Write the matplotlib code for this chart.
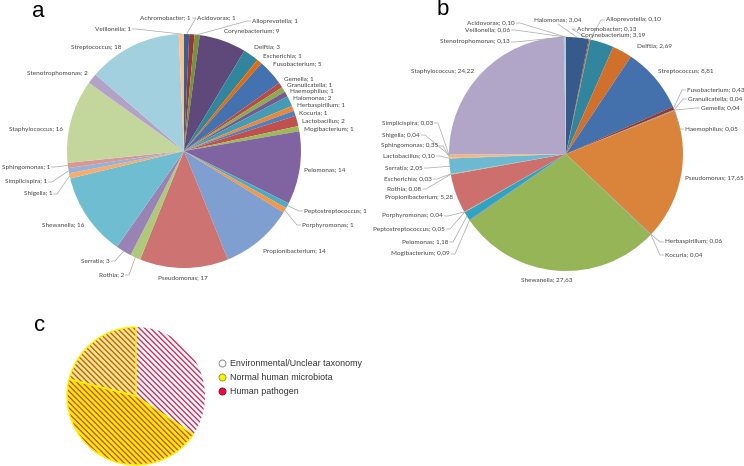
import matplotlib
matplotlib.use("Agg")
import matplotlib.pyplot as plt
import numpy as np

W, H = 744, 466
LABFONT = ["Lato", "DejaVu Sans"]
FS = 4.6
TXT = "#404040"
LEAD = "#a6a6a6"

# ---------------------------------------------------------------- data
# a : number of isolates per genus (clockwise from 12 o'clock)
genera_a = ["Achromobacter", "Acidovorax", "Alloprevotella", "Corynebacterium",
            "Delftia", "Escherichia", "Fusobacterium", "Gemella",
            "Granulicatella", "Haemophilus", "Halomonas", "Herbaspirillum",
            "Kocuria", "Lactobacillus", "Mogibacterium", "Pelomonas",
            "Peptostreptococcus", "Porphyromonas", "Propionibacterium",
            "Pseudomonas", "Rothia", "Serratia", "Shewanella", "Shigella",
            "Simplicispira", "Sphingomonas", "Staphylococcus",
            "Stenotrophomonas", "Streptococcus", "Veillonella"]
counts_a = [1, 1, 1, 9, 3, 1, 5, 1, 1, 1, 2, 1, 1, 2, 1, 14, 1, 1, 14, 17,
            2, 3, 16, 1, 1, 1, 16, 2, 18, 1]
colors_a = ["#376092", "#953735", "#76923c", "#5f497a", "#31859c", "#e36c09",
            "#4472b0", "#b84a47", "#8cab50", "#735a92", "#449bb2", "#e8883f",
            "#4f81bd", "#c0504d", "#9bbb59", "#8064a2", "#4bacc6", "#f79646",
            "#7e9fd0", "#cd7371", "#afc97a", "#9983b5", "#6fbdd1", "#f9ab6b",
            "#95b3d7", "#d99694", "#c3d69b", "#b3a2c7", "#a3d0df", "#fac08f"]

# b : relative abundance (%) per genus (clockwise from 12 o'clock)
genera_b = ["Halomonas", "Achromobacter", "Alloprevotella", "Corynebacterium",
            "Delftia", "Streptococcus", "Fusobacterium", "Granulicatella",
            "Gemella", "Haemophilus", "Pseudomonas", "Herbaspirillum",
            "Kocuria", "Shewanella", "Mogibacterium", "Pelomonas",
            "Peptostreptococcus", "Porphyromonas", "Propionibacterium",
            "Rothia", "Escherichia", "Serratia", "Lactobacillus",
            "Sphingomonas", "Shigella", "Simplicispira", "Staphylococcus",
            "Stenotrophomonas", "Veillonella", "Acidovorax"]
pct_b = [3.04, 0.13, 0.10, 3.19, 2.69, 8.81, 0.43, 0.04, 0.04, 0.05, 17.65,
         0.06, 0.04, 27.63, 0.09, 1.18, 0.05, 0.04, 5.28, 0.08, 0.03, 2.05,
         0.10, 0.35, 0.04, 0.03, 24.22, 0.13, 0.06, 0.10]
colors_b = ["#375a8c", "#953735", "#76923c", "#31859c", "#d0702a", "#4470ab",
            "#953735", "#8cab50", "#735a92", "#449bb2", "#d9843a", "#4f81bd",
            "#c0504d", "#96b556", "#8064a2", "#2fa3c2", "#f79646", "#7e9fd0",
            "#cd6f6d", "#afc97a", "#9983b5", "#6cb9d2", "#f9ab6b", "#f5b47c",
            "#d99694", "#c3d69b", "#b1a6c8", "#92cddc", "#fac08f", "#8fb8dc"]

# c : share by category (clockwise from 12 o'clock)
share_c = [34.4, 44.5, 21.1]
face_c = ["#ffffff", "#fff200", "#fbef7a"]
hatchcol_c = ["#d8285a", "#d8452a", "#c8553a"]
legend_c = ["Environmental/Unclear taxonomy", "Normal human microbiota",
            "Human pathogen"]
legend_face = ["#ffffff", "#fff200", "#e0103a"]
legend_edge = ["#8c8c8c", "#9a9a20", "#b00030"]

# ---------------------------------------------------------------- layout
# label anchor (px), alignment, leader line
LAY_A = {
    "Achromobacter": (191, 18, "right", True),
    "Acidovorax": (197, 18, "left", False),
    "Alloprevotella": (252, 21, "left", True),
    "Veillonella": (131, 29, "right", True),
    "Corynebacterium": (224, 32, "left", False),
    "Streptococcus": (121, 47, "right", False),
    "Delftia": (254, 47, "left", False),
    "Escherichia": (263, 56, "left", False),
    "Fusobacterium": (273, 64, "left", False),
    "Stenotrophomonas": (88, 73, "right", False),
    "Gemella": (284, 79, "left", False),
    "Granulicatella": (287, 85, "left", False),
    "Haemophilus": (290, 91, "left", False),
    "Halomonas": (293, 98, "left", False),
    "Herbaspirillum": (297, 106, "left", False),
    "Kocuria": (299, 113, "left", False),
    "Lactobacillus": (302, 121, "left", False),
    "Mogibacterium": (304, 130, "left", False),
    "Staphylococcus": (63, 129, "right", False),
    "Pelomonas": (304, 170, "left", False),
    "Peptostreptococcus": (304, 211, "left", True),
    "Porphyromonas": (302, 225, "left", True),
    "Propionibacterium": (263, 251, "left", False),
    "Pseudomonas": (183, 278, "center", False),
    "Rothia": (124, 275, "right", True),
    "Serratia": (110, 261, "right", True),
    "Shewanella": (84, 225, "right", False),
    "Shigella": (52, 194, "right", True),
    "Simplicispira": (47, 182, "right", True),
    "Sphingomonas": (50, 167, "right", True),
}
LAY_B = {
    "Acidovorax": (515, 23, "right", True),
    "Veillonella": (510, 30, "right", True),
    "Stenotrophomonas": (510, 42, "right", True),
    "Staphylococcus": (474, 72, "right", False),
    "Simplicispira": (433, 123, "right", True),
    "Shigella": (420, 135, "right", True),
    "Sphingomonas": (438, 146, "right", True),
    "Lactobacillus": (435, 156, "right", True),
    "Serratia": (423, 168, "right", True),
    "Escherichia": (432, 179, "right", True),
    "Rothia": (421, 189, "right", True),
    "Propionibacterium": (453, 198, "right", False),
    "Porphyromonas": (443, 216, "right", True),
    "Peptostreptococcus": (445, 229, "right", True),
    "Pelomonas": (448, 242, "right", True),
    "Mogibacterium": (450, 254, "right", True),
    "Shewanella": (547, 280, "center", False),
    "Halomonas": (558, 20, "center", True),
    "Alloprevotella": (606, 20, "left", True),
    "Achromobacter": (577, 29, "left", True),
    "Corynebacterium": (581, 36, "left", False),
    "Delftia": (637, 46, "left", False),
    "Streptococcus": (658, 71, "left", False),
    "Fusobacterium": (687, 90, "left", True),
    "Granulicatella": (688, 99, "left", True),
    "Gemella": (701, 108, "left", True),
    "Haemophilus": (685, 129, "left", True),
    "Pseudomonas": (685, 178, "left", False),
    "Herbaspirillum": (665, 242, "left", True),
    "Kocuria": (665, 255, "left", True),
}


def draw_pie(ax, vals, cols, names, texts, cx, cy, r, lay):
    wedges, _ = ax.pie(vals, colors=cols, startangle=90, counterclock=False,
                       center=(cx, H - cy), radius=r, frame=True,
                       wedgeprops=dict(linewidth=0))
    for w, name, lab in zip(wedges, names, texts):
        x, y, ha, lead = lay[name]
        ax.text(x, H - y, lab, ha=ha, va="center", fontsize=FS, color=TXT,
                family=LABFONT)
        if not lead:
            continue
        a = np.deg2rad((w.theta1 + w.theta2) / 2)
        ex, ey = cx + r * np.cos(a), H - cy + r * np.sin(a)
        if ha == "left":
            pts = [(x - 1.5, H - y), (x - 5, H - y), (ex, ey)]
        elif ha == "right":
            pts = [(x + 1.5, H - y), (x + 5, H - y), (ex, ey)]
        else:
            pts = [(x, H - y - 4), (ex, ey)]
        px, py = zip(*pts)
        ax.plot(px, py, color=LEAD, lw=0.5)


fig = plt.figure(figsize=(W / 100, H / 100), dpi=100)
ax = fig.add_axes([0, 0, 1, 1])

draw_pie(ax, counts_a, colors_a, genera_a,
         [f"{g}; {v}" for g, v in zip(genera_a, counts_a)],
         184, 151, 117, LAY_A)
draw_pie(ax, pct_b, colors_b, genera_b,
         [f"{g}; {v:.2f}".replace(".", ",") for g, v in zip(genera_b, pct_b)],
         566, 154, 117, LAY_B)

# c : hatched pie
plt.rcParams["hatch.linewidth"] = 1.0
wc, _ = ax.pie(share_c, colors=face_c, startangle=90, counterclock=False,
               center=(136, H - 396), radius=69, frame=True,
               wedgeprops=dict(linewidth=0))
for w, hc in zip(wc, hatchcol_c):
    w.set_hatch("\\" * 6)
    w.set_edgecolor(hc)
    w.set_linewidth(0)
wo, _ = ax.pie(share_c, colors=["none"] * 3, startangle=90, counterclock=False,
               center=(136, H - 396), radius=69, frame=True,
               wedgeprops=dict(linewidth=1.0, fill=False))
wo[0].set_edgecolor("none")
for w in wo[1:]:
    w.set_edgecolor("#fff200")

for i, (lab, fc, ec) in enumerate(zip(legend_c, legend_face, legend_edge)):
    yy = H - (363 + 14 * i)
    ax.plot([222], [yy], marker="o", ms=5, mfc=fc, mec=ec, mew=0.7)
    ax.text(230, yy, lab, ha="left", va="center", fontsize=6.4,
            color="#333333", family="Liberation Sans")

for t, x, y in (("a", 32, 17), ("b", 437, 15), ("c", 34, 331)):
    ax.text(x, H - y, t, ha="left", va="baseline", fontsize=16,
            family="Liberation Sans", color="black")

ax.set_xlim(0, W)
ax.set_ylim(0, H)
ax.set_aspect("auto")
ax.axis("off")
fig.savefig("out.png", dpi=100)
